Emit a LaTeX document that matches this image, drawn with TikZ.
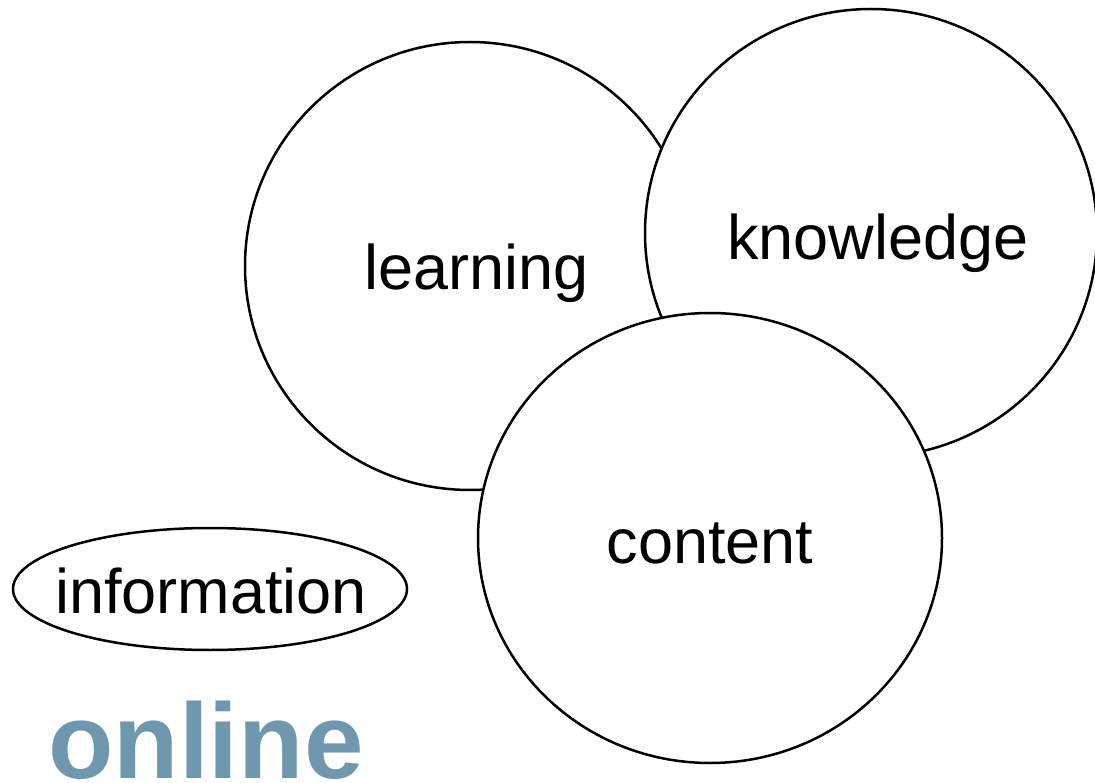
\documentclass[tikz,border=0pt]{standalone}
\usepackage{fontspec}
\setmainfont{Liberation Sans}
\usetikzlibrary{shapes.geometric}
\definecolor{onlineblue}{RGB}{111,151,173}
\begin{document}
\begin{tikzpicture}[x=1pt,y=-1pt,
  bubble/.style={ellipse,draw=black,fill=white,line width=2.5pt,inner sep=0pt},
  word/.style={font=\fontsize{63}{70}\selectfont,inner sep=0pt,anchor=base}]
\useasboundingbox (0,0) rectangle (1095,783);
\node[bubble,minimum width=394pt,minimum height=122pt] (info) at (210,589) {};
\node[bubble,minimum width=450pt,minimum height=448pt] (learn) at (470,266) {};
\node[bubble,minimum width=452pt,minimum height=448pt] (know) at (871,233) {};
\node[bubble,minimum width=464pt,minimum height=450pt] (cont) at (710,538) {};
\node[word] (tinfo) at (211,613) {information};
\node[word] (tlearn) at (477,290) {learning};
\node[word] (tknow) at (878,260) {knowledge};
\node[word] (tcont) at (710,563) {content};
\node[font=\fontsize{107}{120}\selectfont\bfseries,text=onlineblue,inner sep=0pt,anchor=base] (online) at (206,778) {online};
\end{tikzpicture}
\end{document}
